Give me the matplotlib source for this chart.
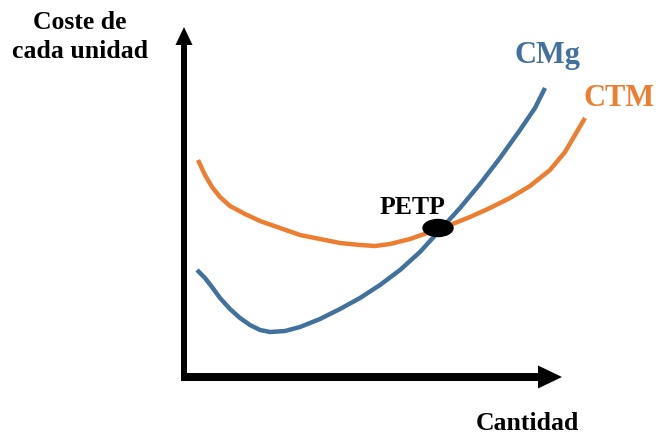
import matplotlib.pyplot as plt
from matplotlib.patches import Ellipse

plt.rcParams['font.family'] = ['Liberation Serif', 'DejaVu Serif']

# quantity / cost (origin at the axis corner)
cmg_q = [12, 20, 27, 35, 45, 55, 65, 75, 85, 100, 115, 135, 155, 175,
         195, 215, 235, 255, 275, 295, 315, 335, 350, 360]
cmg_c = [105, 97, 88, 77, 66, 57, 50, 45, 43, 44, 48, 56, 66, 77,
         90, 105, 123, 145, 167, 191, 217, 245, 267, 287]

ctm_q = [13, 20, 27, 35, 45, 60, 75, 95, 115, 135, 155, 175, 190, 205,
         225, 245, 265, 285, 305, 325, 345, 365, 380, 390, 400]
ctm_c = [215, 200, 188, 178, 169, 161, 154, 147, 140, 136, 132, 130, 129, 131,
         136, 143, 150, 158, 167, 177, 189, 205, 223, 240, 257]

petp = (253, 147)

blue = '#41719C'
orange = '#ED7D31'

fig = plt.figure(figsize=(6.58, 4.34), dpi=100)
ax = fig.add_axes([0, 0, 1, 1])
ax.set_xlim(-185, 473)
ax.set_ylim(-59, 375)
ax.axis('off')

ax.plot(cmg_q, cmg_c, color=blue, lw=3.2, solid_capstyle='butt',
        solid_joinstyle='round')
ax.plot(ctm_q, ctm_c, color=orange, lw=3.2, solid_capstyle='butt',
        solid_joinstyle='round')

ax.add_patch(Ellipse(petp, 30, 17, color='black', zorder=5))

# axes arrows
ax.arrow(-1, -6, 0, 354, width=6, head_width=17, head_length=18,
         length_includes_head=True, color='black', lw=0)
ax.arrow(-4, -2, 381, 0, width=8, head_width=23, head_length=24,
         length_includes_head=True, color='black', lw=0)

ax.text(-105, 338, 'Coste de\ncada unidad', ha='center', va='center',
        fontsize=18.5, fontweight='bold', linespacing=1.3)
ax.text(342, -48, 'Cantidad', ha='center', va='center',
        fontsize=18.5, fontweight='bold')
ax.text(227, 168, 'PETP', ha='center', va='center',
        fontsize=18.5, fontweight='bold')
ax.text(362, 320, 'CMg', ha='center', va='center', color=blue,
        fontsize=22, fontweight='bold')
ax.text(434, 277, 'CTM', ha='center', va='center', color=orange,
        fontsize=22, fontweight='bold')

fig.savefig('out.png', dpi=100)
